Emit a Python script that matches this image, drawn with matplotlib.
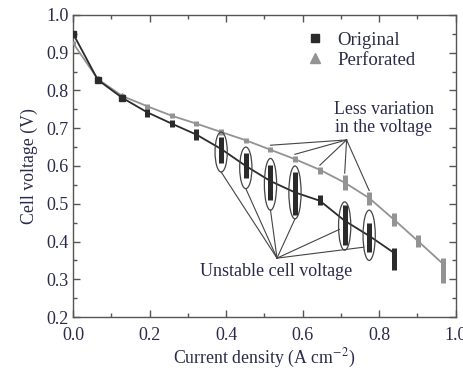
import matplotlib
matplotlib.use('Agg')
import matplotlib.pyplot as plt
from matplotlib.patches import Ellipse
from matplotlib.lines import Line2D
from matplotlib.ticker import MultipleLocator, FormatStrFormatter

# current density steps (A cm^-2)
current = [0.0, 0.0645, 0.129, 0.194, 0.258, 0.3225, 0.387, 0.4515,
           0.516, 0.58, 0.645, 0.71, 0.774, 0.839, 0.903, 0.968]

# original cell: mean voltage and min/max of the fluctuation
orig_mid = [0.950, 0.828, 0.780, 0.742, 0.712, 0.683, 0.645, 0.600,
            0.560, 0.530, 0.508, 0.455, 0.415, 0.370]
orig_lo = [0.945, 0.822, 0.774, 0.730, 0.703, 0.669, 0.608, 0.568,
           0.510, 0.470, 0.497, 0.390, 0.372, 0.325]
orig_hi = [0.955, 0.834, 0.786, 0.750, 0.722, 0.698, 0.677, 0.634,
           0.603, 0.584, 0.523, 0.497, 0.450, 0.383]

# perforated cell
perf_mid = [0.925, 0.830, 0.785, 0.758, 0.733, 0.712, 0.690, 0.668,
            0.643, 0.618, 0.590, 0.556, 0.515, 0.458, 0.400, 0.340]
perf_lo = [0.920, 0.825, 0.779, 0.751, 0.726, 0.705, 0.683, 0.661,
           0.636, 0.610, 0.580, 0.536, 0.497, 0.440, 0.385, 0.290]
perf_hi = [0.930, 0.835, 0.791, 0.765, 0.740, 0.719, 0.697, 0.675,
           0.650, 0.626, 0.597, 0.576, 0.530, 0.475, 0.417, 0.356]

# unstable points circled on the original curve (index, bottom, top)
circled = [6, 7, 8, 9, 11, 12]
circ_lo = [0.584, 0.540, 0.483, 0.460, 0.377, 0.350]
circ_hi = [0.690, 0.650, 0.620, 0.600, 0.505, 0.483]
# perforated points pointed at by the second note
pointed = [8, 9, 10, 11, 12]

dark = '#2b2b2b'
grey = '#939393'
txt = '#2a2a4a'

plt.rcParams['font.family'] = ['Liberation Serif', 'DejaVu Serif']
plt.rcParams['mathtext.fontset'] = 'stix'

fig = plt.figure(figsize=(4.63, 3.73), dpi=100)
ax = fig.add_axes([0.158, 0.150, 0.826, 0.810])

n = len(orig_mid)
# perforated curve
ax.plot(current, perf_mid, color=grey, lw=1.3, zorder=2)
ax.vlines(current, perf_lo, perf_hi, color=grey, lw=3.6, zorder=3)
ax.plot(current[1:3], perf_mid[1:3], '^', color=grey, ms=5, zorder=3)
# original curve
ax.plot(current[:n], orig_mid, color=dark, lw=1.3, zorder=4)
ax.vlines(current[:n], orig_lo, orig_hi, color=dark, lw=3.6, zorder=5)
ax.plot(current[:3], orig_mid[:3], 's', color=dark, ms=4, zorder=5)

# ellipses around the unstable points
for i, lo, hi in zip(circled, circ_lo, circ_hi):
    ax.add_patch(Ellipse((current[i], (lo + hi) / 2), 0.032, hi - lo,
                         fill=False, ec='#444444', lw=0.9, zorder=6))

# pointer lines for "Unstable cell voltage"
hub = (0.533, 0.356)
for k, (i, lo, hi) in enumerate(zip(circled, circ_lo, circ_hi)):
    if k < 4:
        tx, ty = current[i], lo
    else:
        tx, ty = current[i] - 0.014, lo + 0.035 + (0.02 if k == 4 else 0)
    ax.plot([hub[0], tx], [hub[1], ty], color='#444444', lw=0.8, zorder=6)
ax.text(0.530, 0.320, 'Unstable cell voltage', ha='center', va='center',
        fontsize=13, color=txt)

# pointer lines for "Less variation in the voltage"
hub2 = (0.715, 0.669)
for i in pointed:
    ax.plot([hub2[0], current[i]], [hub2[1], perf_hi[i] + 0.005],
            color='#444444', lw=0.8, zorder=6)
ax.text(0.812, 0.725, 'Less variation\nin the voltage', ha='center',
        va='center', fontsize=12.8, color=txt, linespacing=1.1)

handles = [Line2D([], [], marker='s', ls='none', color=dark, ms=6),
           Line2D([], [], marker='^', ls='none', color=grey, ms=7)]
ax.legend(handles, ['Original', 'Perforated'], loc='upper right',
          bbox_to_anchor=(0.94, 1.0), frameon=False, fontsize=13.5,
          handletextpad=0.2, labelspacing=0.15, labelcolor=txt)

ax.set_xlim(0, 1.0)
ax.set_ylim(0.2, 1.0)
ax.xaxis.set_major_locator(MultipleLocator(0.2))
ax.xaxis.set_minor_locator(MultipleLocator(0.1))
ax.yaxis.set_major_locator(MultipleLocator(0.1))
ax.yaxis.set_minor_locator(MultipleLocator(0.05))
ax.xaxis.set_major_formatter(FormatStrFormatter('%.1f'))
ax.yaxis.set_major_formatter(FormatStrFormatter('%.1f'))
ax.tick_params(which='both', direction='in', top=True, right=True,
               colors='#555555', labelcolor=txt, labelsize=13)
ax.tick_params(axis='x', which='major', pad=7)
ax.tick_params(which='major', length=5, width=1)
ax.tick_params(which='minor', length=3, width=1)
for s in ax.spines.values():
    s.set_color('#555555')
    s.set_linewidth(1.0)

ax.set_xlabel('Current density (A cm$^{-2}$)', fontsize=12.8, color=txt,
              labelpad=2)
ax.set_ylabel('Cell voltage (V)', fontsize=12.8, color=txt, labelpad=6)

fig.savefig('out.png', dpi=100)
